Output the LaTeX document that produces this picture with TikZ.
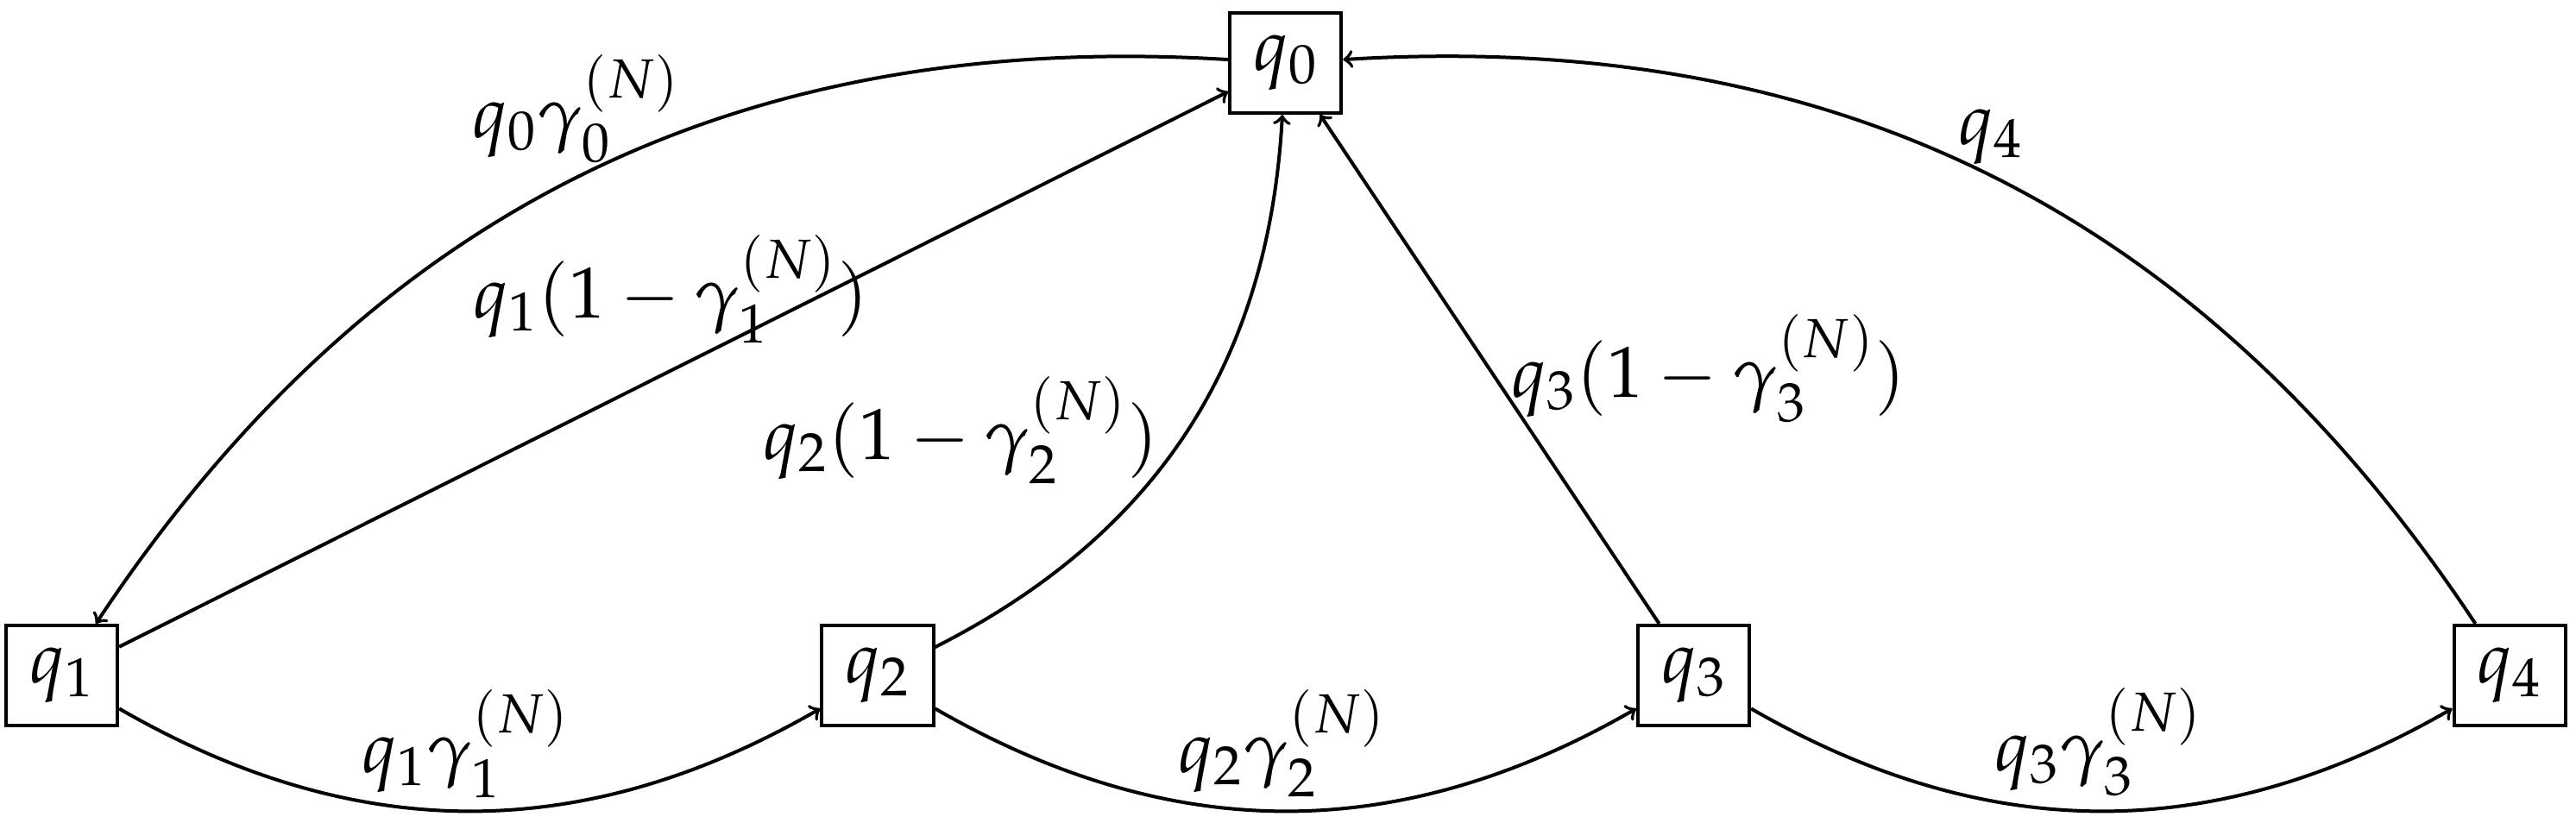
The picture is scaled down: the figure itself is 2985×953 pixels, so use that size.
\documentclass[tikz,border=0pt]{standalone}
\usepackage{mathpazo}
\begin{document}
\begin{tikzpicture}[x=0.01cm,y=0.01cm,
  every path/.style={line width=0.04cm},
  state/.style={draw,line width=0.04cm,minimum width=1.29cm,minimum height=1.16cm,inner sep=0pt,font=\fontsize{23.9}{28}\selectfont},
  lbl/.style={inner sep=0pt,anchor=base,font=\fontsize{23.9}{28}\selectfont},
  edge/.style={->,line width=0.04cm}]
\useasboundingbox (0,0) rectangle (2985,-953);
\node[state] (q0) at (1489.75,-73) {$q_0$};
\node[state] (q1) at (71.5,-783) {$q_1$};
\node[state] (q2) at (1017,-783) {$q_2$};
\node[state] (q3) at (1962.5,-783) {$q_3$};
\node[state] (q4) at (2908,-783) {$q_4$};
\draw[edge] (q0) to[bend right] (q1);
\draw[edge] (q1) -- (q0);
\draw[edge] (q2) to[bend right] (q0);
\draw[edge] (q3) -- (q0);
\draw[edge] (q4) to[bend right] (q0);
\draw[edge] (q1) to[bend right] (q2);
\draw[edge] (q2) to[bend right] (q3);
\draw[edge] (q3) to[bend right] (q4);
\node[lbl] (l0) at (668,-159) {$q_0\gamma_0^{(N)}$};
\node[lbl] (l1) at (777.5,-368) {$q_1(1-\gamma_1^{(N)})$};
\node[lbl] (l2) at (1113.5,-532) {$q_2(1-\gamma_2^{(N)})$};
\node[lbl] (l3) at (1980,-460) {$q_3(1-\gamma_3^{(N)})$};
\node[lbl] (l4) at (2306.5,-167) {$q_4$};
\node[lbl] (b1) at (540,-895) {$q_1\gamma_1^{(N)}$};
\node[lbl] (b2) at (1486,-895) {$q_2\gamma_2^{(N)}$};
\node[lbl] (b3) at (2432,-893) {$q_3\gamma_3^{(N)}$};
\end{tikzpicture}
\end{document}
